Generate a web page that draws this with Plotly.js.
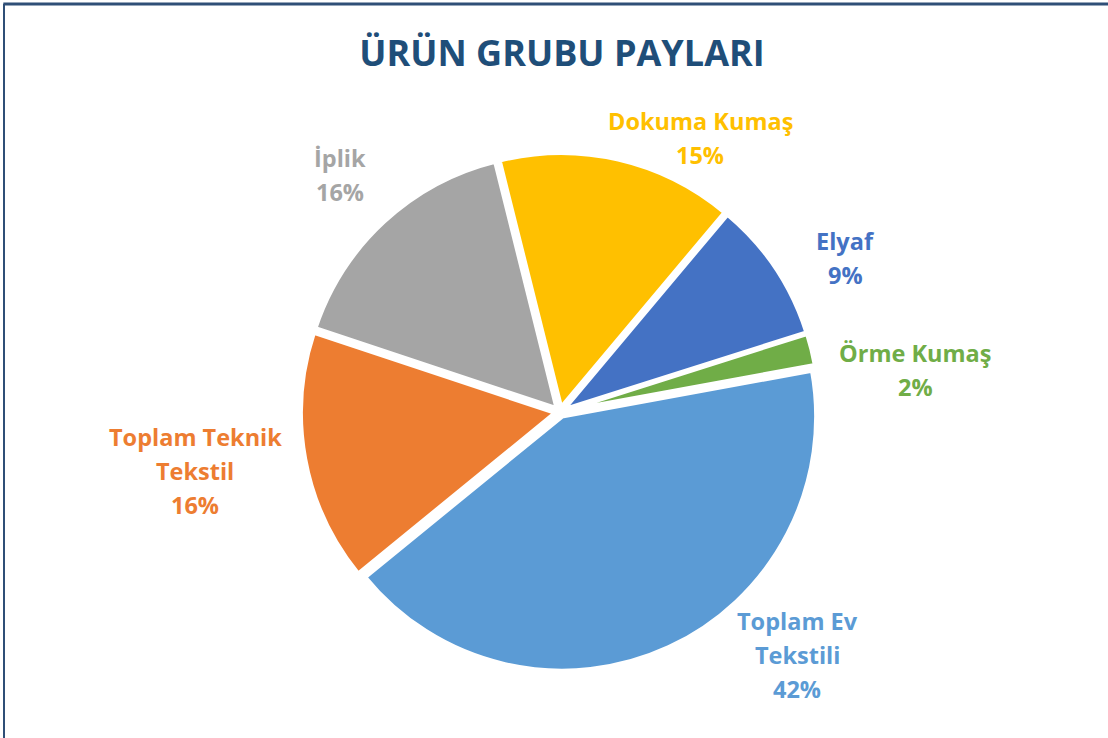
<!DOCTYPE html>
<html>
<head>
<meta charset="utf-8">
<script src="https://cdn.plot.ly/plotly-3.0.1.min.js"></script>
<style>html,body{margin:0;padding:0;background:#fff;}#chart{width:1108px;height:738px;}</style>
</head>
<body>
<div id="chart"></div>
<script>
// Data
const categories = ["Dokuma Kumaş", "Elyaf", "Örme Kumaş", "Toplam Ev Tekstili", "Toplam Teknik Tekstil", "İplik"];
const labelLines = [["Dokuma Kumaş"], ["Elyaf"], ["Örme Kumaş"], ["Toplam Ev", "Tekstili"], ["Toplam Teknik", "Tekstil"], ["İplik"]];
const shares = [15, 9, 2, 42, 16, 16];
const colors = ["#FFC000", "#4472C4", "#70AD47", "#5B9BD5", "#ED7D31", "#A5A5A5"];
const titleText = "ÜRÜN GRUBU PAYLARI";

// Label anchor positions (pixels, first line centre) - layout only
const labelPos = [[700, 121], [845, 241], [915, 353], [797, 621], [195, 437], [340, 158]];
const lineGap = 34;
const W = 1108, H = 738;

const total = shares.reduce((a, b) => a + b, 0);
const annotations = [];
categories.forEach((c, i) => {
  const lines = labelLines[i].concat([Math.round(shares[i] / total * 100) + "%"]);
  lines.forEach((t, j) => {
    annotations.push({
      text: t, showarrow: false, xref: "paper", yref: "paper",
      x: labelPos[i][0] / W, y: 1 - (labelPos[i][1] + j * lineGap) / H,
      xanchor: "center", yanchor: "middle",
      font: {family: "Open Sans", size: 23.5, color: colors[i], weight: 700}
    });
  });
});

const cx = 560, cy = 412, r = 254, pull = 0.02;
const half = r * (1 + pull);

const trace = {
  type: "pie",
  labels: categories,
  values: shares,
  sort: false,
  direction: "clockwise",
  rotation: -14,
  pull: pull,
  textinfo: "none",
  hoverinfo: "label+percent",
  marker: {colors: colors, line: {color: "#ffffff", width: 4}},
  domain: {x: [(cx - half) / W, (cx + half) / W], y: [1 - (cy + half) / H, 1 - (cy - half) / H]},
  showlegend: false
};

const layout = {
  width: W, height: H,
  margin: {l: 0, r: 0, t: 0, b: 0},
  paper_bgcolor: "#ffffff",
  title: {text: titleText, x: 562 / W, xanchor: "center", y: 1 - 53 / H, yanchor: "middle",
          font: {family: "Open Sans", size: 36, color: "#1F4E79", weight: 700}},
  annotations: annotations,
  shapes: [
    {type: "line", xref: "paper", yref: "paper", x0: 0.003, x1: 1, y0: 1 - 4 / H, y1: 1 - 4 / H, line: {color: "#2F4F77", width: 3}},
    {type: "line", xref: "paper", yref: "paper", x0: 4 / W, x1: 4 / W, y0: 0, y1: 1 - 4 / H, line: {color: "#2F4F77", width: 2}}
  ]
};

Plotly.newPlot("chart", [trace], layout, {displayModeBar: false, staticPlot: true});
</script>
</body>
</html>
